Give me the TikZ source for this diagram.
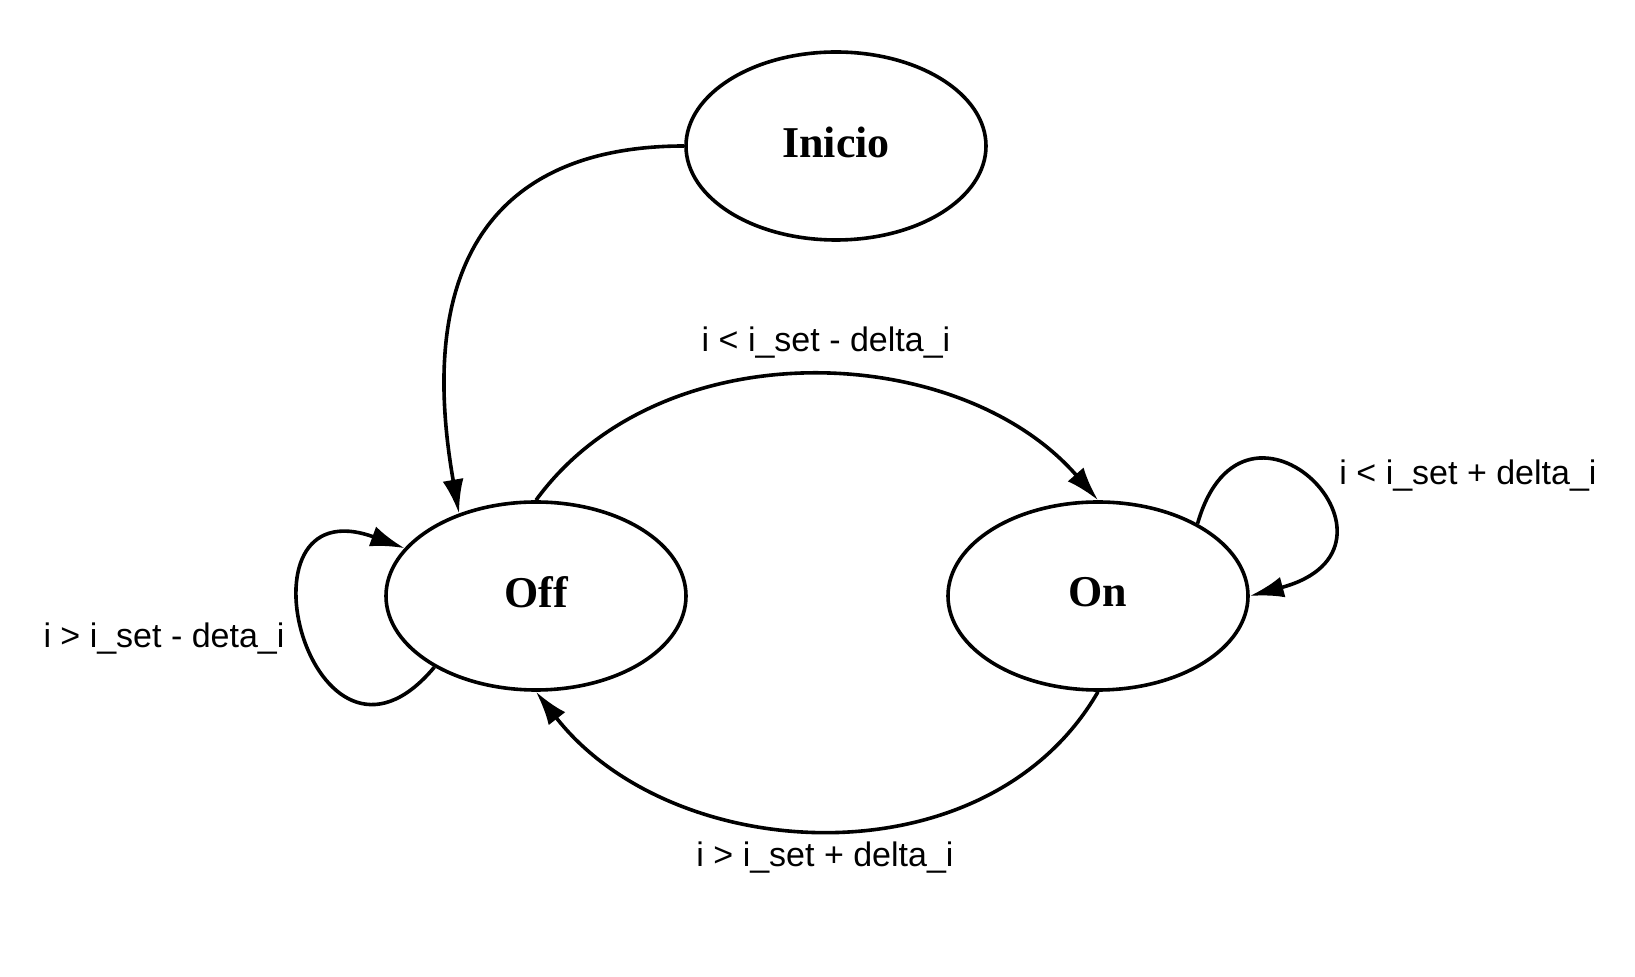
\documentclass[tikz,border=0pt]{standalone}
\usepackage{fontspec}
\setmainfont{Liberation Serif}
\newfontfamily\condfont{Liberation Sans}
\usetikzlibrary{arrows.meta,shapes.geometric}
\begin{document}
\begin{tikzpicture}[x=0.5pt,y=0.5pt]
	\tikzset{>={Latex[length=17pt,width=10.5pt]}}
	\tikzset{state/.style={draw,ellipse,line width=1.8pt,minimum width=150pt,minimum height=94pt,inner sep=0pt,text depth=4pt,font=\fontsize{22pt}{26pt}\selectfont\bfseries}}
	\tikzset{cond/.style={anchor=base,inner sep=0pt,font=\fontsize{17pt}{20pt}\selectfont\condfont}}
	\tikzset{trans/.style={->,line width=1.8pt}}
	\useasboundingbox (0,0) rectangle (1635,-977);
	\node[state] (inicio) at (836,-146) {Inicio};
	\node[state] (off) at (536,-596) {Off};
	\node[state] (on) at (1098,-596) {On};
	\node[cond] (offon) at (826,-352) {i < i\_set - delta\_i};
	\node[cond] (onoff) at (825,-867) {i > i\_set + delta\_i};
	\node[cond] (onon) at (1468,-485) {i < i\_set + delta\_i};
	\node[cond] (offoff) at (164,-648) {i > i\_set - deta\_i};
	\draw[trans] (inicio.west) .. controls +(180:180) and +(100:265) .. (off.133);
	\draw[trans] (off.north) .. controls +(54:212) and +(131:212) .. (on.north);
	\draw[trans] (on.south) .. controls +(-120:222) and +(-52:222) .. (off.south);
	\draw[trans] (off.215) .. controls +(-130:190) and +(160:190) .. (off.160);
	\draw[trans] (on.36) .. controls +(74:170) and +(15:185) .. (on.east);
\end{tikzpicture}
\end{document}
